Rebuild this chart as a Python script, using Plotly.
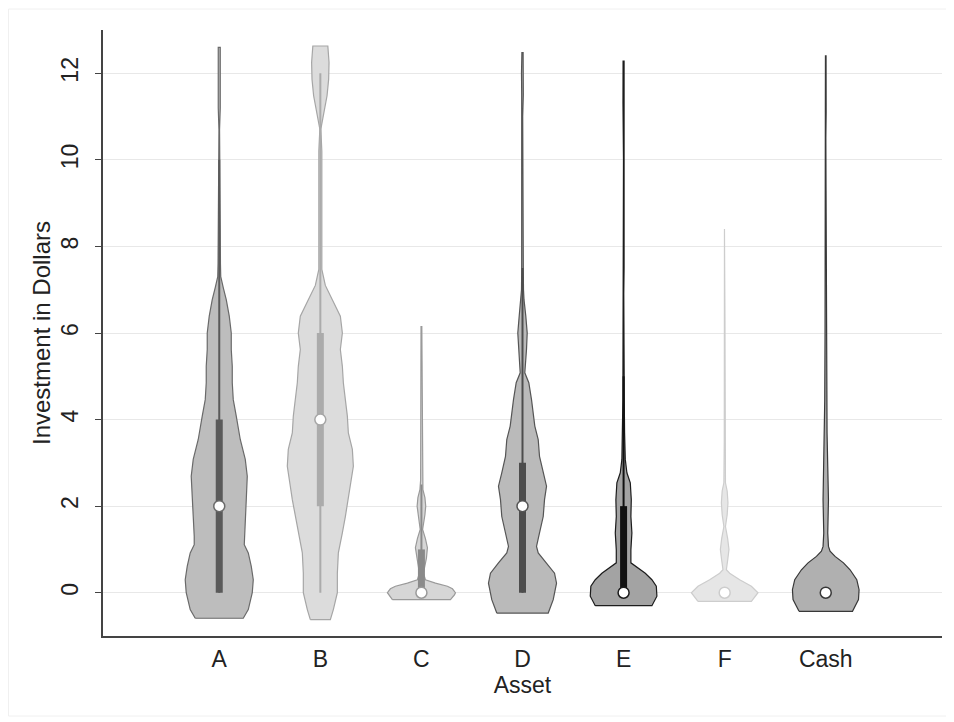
import plotly.graph_objects as go

# ---------------- data ----------------
categories = ["A", "B", "C", "D", "E", "F", "Cash"]
positions = [1, 2, 3, 4, 5, 6, 7]

# violin density profiles: value levels and half-widths (pixel-like density units)
prof_y_A = [-0.59, -0.39, 0.0, 0.30, 0.61, 0.92, 1.11, 1.30, 1.76, 2.15, 2.69, 3.08, 3.54, 4.08, 4.46,
            4.85, 5.23, 5.62, 6.00, 6.39, 6.77, 7.05, 7.3, 7.6, 8.5, 9.5, 10.2, 10.5, 10.7, 11.2, 12.0, 12.6]
prof_w_A = [24, 29, 33, 34, 32, 29, 25, 25, 26, 27, 28, 26, 21, 17, 14,
            13, 13, 12, 12, 10, 7, 4, 1.5, 1.2, 1.0, 1.0, 0.8, 0.3, 0.3, 1.0, 1.3, 1.0]

prof_y_B = [-0.62, -0.39, 0.0, 0.45, 0.92, 1.38, 1.76, 2.15, 2.46, 2.92, 3.31, 3.69, 4.08, 4.46, 4.85,
            5.23, 5.62, 6.0, 6.39, 6.77, 7.1, 7.47, 7.8, 8.3, 8.8, 9.2, 9.7, 10.2, 10.71, 11.09, 11.48,
            11.86, 12.25, 12.63]
prof_w_B = [10, 13, 17, 17, 18, 22, 25, 28, 30, 33, 32, 28, 27, 25, 23,
            22, 20, 22, 20, 12, 5, 1.5, 1.5, 2, 2.2, 2, 1.5, 1.5, 0.5, 3.3, 6.7,
            8.3, 8.7, 7.5]

prof_y_C = [-0.16, -0.05, 0.0, 0.09, 0.15, 0.22, 0.30, 0.45, 0.6, 0.8, 1.04, 1.25, 1.46, 1.6, 1.8,
            2.0, 2.2, 2.38, 2.6, 3.5, 4.5, 5.5, 6.15]
prof_w_C = [29, 33, 34, 31, 26, 14, 4, 2, 3, 5, 6, 4, 1.2, 2, 3.5,
            4.3, 3.5, 1.5, 0.8, 0.6, 0.6, 0.6, 0.4]

prof_y_D = [-0.47, -0.16, 0.22, 0.45, 0.69, 0.92, 1.07, 1.38, 1.76, 2.15, 2.46, 2.77, 3.15, 3.54, 3.85,
            4.46, 4.85, 5.08, 5.62, 6.0, 6.39, 6.77, 7.0, 7.5, 8.5, 9.5, 10.5, 10.8, 11.0, 11.5, 12.0, 12.48]
prof_w_D = [25.7, 30.7, 34, 32, 24, 15.7, 14, 17, 20.7, 22, 24, 20.7, 17, 15.7, 12.3,
            9, 6.3, 2.3, 4, 4.7, 3.3, 1.5, 1.0, 0.8, 0.8, 0.8, 0.8, 0.2, 0.2, 0.8, 1.0, 0.6]

prof_y_E = [-0.30, -0.08, 0.15, 0.30, 0.45, 0.61, 0.69, 0.99, 1.38, 1.76, 2.15, 2.54, 2.77, 3.08, 3.69,
            4.46, 5.5, 6.5, 6.9, 7.5, 8.3, 9.0, 10.0, 11.3, 12.28]
prof_w_E = [28.3, 33.3, 32.7, 28.3, 21.7, 11.7, 7.3, 7.3, 8.3, 7.3, 7.7, 6.7, 3.3, 1.7, 1.0,
            0.7, 0.6, 0.4, 0.2, 0.5, 0.5, 0.1, 0.1, 0.6, 0.5]

prof_y_F = [-0.20, 0.0, 0.15, 0.30, 0.45, 0.53, 0.75, 1.0, 1.25, 1.53, 1.8, 2.08, 2.35, 2.54, 3.5,
            4.5, 5.5, 6.3, 7.5, 8.4]
prof_w_F = [26.7, 33.3, 26.7, 15, 5, 1.7, 3, 4.3, 3, 0.8, 2.5, 3.3, 2.5, 0.8, 0.4,
            0.4, 0.4, 0.3, 0.3, 0.2]

prof_y_Cash = [-0.43, -0.16, 0.07, 0.30, 0.53, 0.69, 0.84, 0.96, 1.07, 1.38, 2.15, 2.92, 3.69, 4.46,
               6.0, 7.0, 7.86, 8.5, 9.3, 10.5, 11.1, 12.4]
prof_w_Cash = [26.7, 32.7, 33.3, 31, 24.3, 17.7, 9.3, 4.3, 2.7, 2, 2.7, 2, 1.3, 1,
               0.7, 0.5, 0.4, 0.4, 0.3, 0.1, 0.4, 0.3]

medians = [2, 4, 0, 2, 0, 0, 0]
q1 = [0, 2, 0, 0, 0, 0, 0]
q3 = [4, 6, 1, 3, 2, 0, 0]
whisk_lo = [0, 0, 0, 0, 0, 0, 0]
whisk_hi = [10, 12, 2.5, 7.5, 5, 0, 0]

profiles_y = [prof_y_A, prof_y_B, prof_y_C, prof_y_D, prof_y_E, prof_y_F, prof_y_Cash]
profiles_w = [prof_w_A, prof_w_B, prof_w_C, prof_w_D, prof_w_E, prof_w_F, prof_w_Cash]

y_ticks = [0, 2, 4, 6, 8, 10, 12]

# ---------------- styles ----------------
fill_colors = ["#bdbdbd", "#dcdcdc", "#d6d6d6", "#bababa", "#a3a3a3", "#e6e6e6", "#b0b0b0"]
line_colors = ["#6a6a6a", "#a6a6a6", "#9a9a9a", "#555555", "#1c1c1c", "#cdcdcd", "#383838"]
bar_colors = ["#5a5a5a", "#ababab", "#8a8a8a", "#4d4d4d", "#111111", "#cdcdcd", "#383838"]
WIDTH_SCALE = 1 / 101.0
FONT = "Liberation Sans, Arial, sans-serif"

fig = go.Figure()

for i, cat in enumerate(categories):
    xc = positions[i]
    ys = profiles_y[i]
    ws = [w * WIDTH_SCALE for w in profiles_w[i]]
    xs_poly = [xc - w for w in ws] + [xc + w for w in reversed(ws)] + [xc - ws[0]]
    ys_poly = list(ys) + list(reversed(ys)) + [ys[0]]
    fig.add_trace(go.Scatter(
        x=xs_poly, y=ys_poly, mode="lines", fill="toself",
        fillcolor=fill_colors[i], line=dict(color=line_colors[i], width=1.2),
        hoverinfo="skip", showlegend=False))
    # whisker
    if whisk_hi[i] > whisk_lo[i]:
        fig.add_trace(go.Scatter(
            x=[xc, xc], y=[whisk_lo[i], whisk_hi[i]], mode="lines",
            line=dict(color=bar_colors[i], width=2), hoverinfo="skip", showlegend=False))
    # box bar
    if q3[i] > q1[i]:
        fig.add_trace(go.Scatter(
            x=[xc, xc], y=[q1[i], q3[i]], mode="lines",
            line=dict(color=bar_colors[i], width=7), hoverinfo="skip", showlegend=False))
    # median
    fig.add_trace(go.Scatter(
        x=[xc], y=[medians[i]], mode="markers",
        marker=dict(size=11, color="white", line=dict(color=line_colors[i], width=1.5)),
        hoverinfo="skip", showlegend=False))

# the page body has an 8px default margin, so the figure is sized to fit the window
fig.update_layout(
    width=946, height=714,
    margin=dict(l=95, r=12, t=22, b=86),
    paper_bgcolor="white", plot_bgcolor="white",
    font=dict(family=FONT, size=22, color="#222222"),
    xaxis=dict(
        range=[-0.15, 8.15], tickmode="array", tickvals=positions, ticktext=categories,
        showgrid=False, zeroline=False, showline=True, linecolor="#444444", linewidth=1.5,
        ticks="", tickfont=dict(size=23), automargin=False, ticklabelstandoff=2,
        title=dict(text="Asset", font=dict(size=23), standoff=0)),
    yaxis=dict(
        range=[-1, 13], tickmode="array", tickvals=y_ticks,
        showgrid=True, gridcolor="#e8e8e8", gridwidth=1, zeroline=False,
        showline=True, linecolor="#444444", linewidth=1.5,
        ticks="outside", ticklen=6, tickcolor="#444444", tickangle=-90,
        ticklabelstandoff=8, automargin=False,
        tickfont=dict(size=23),
        title=dict(text="Investment in Dollars", font=dict(size=24), standoff=0)),
    shapes=[dict(type="rect", xref="paper", yref="paper",
                 x0=-94.5 / 839, x1=844 / 839,
                 y0=-80 / 606, y1=627 / 606,
                 line=dict(color="#f0f0f0", width=1), fillcolor="rgba(0,0,0,0)", layer="below")],
)

fig.write_html("out.html")
